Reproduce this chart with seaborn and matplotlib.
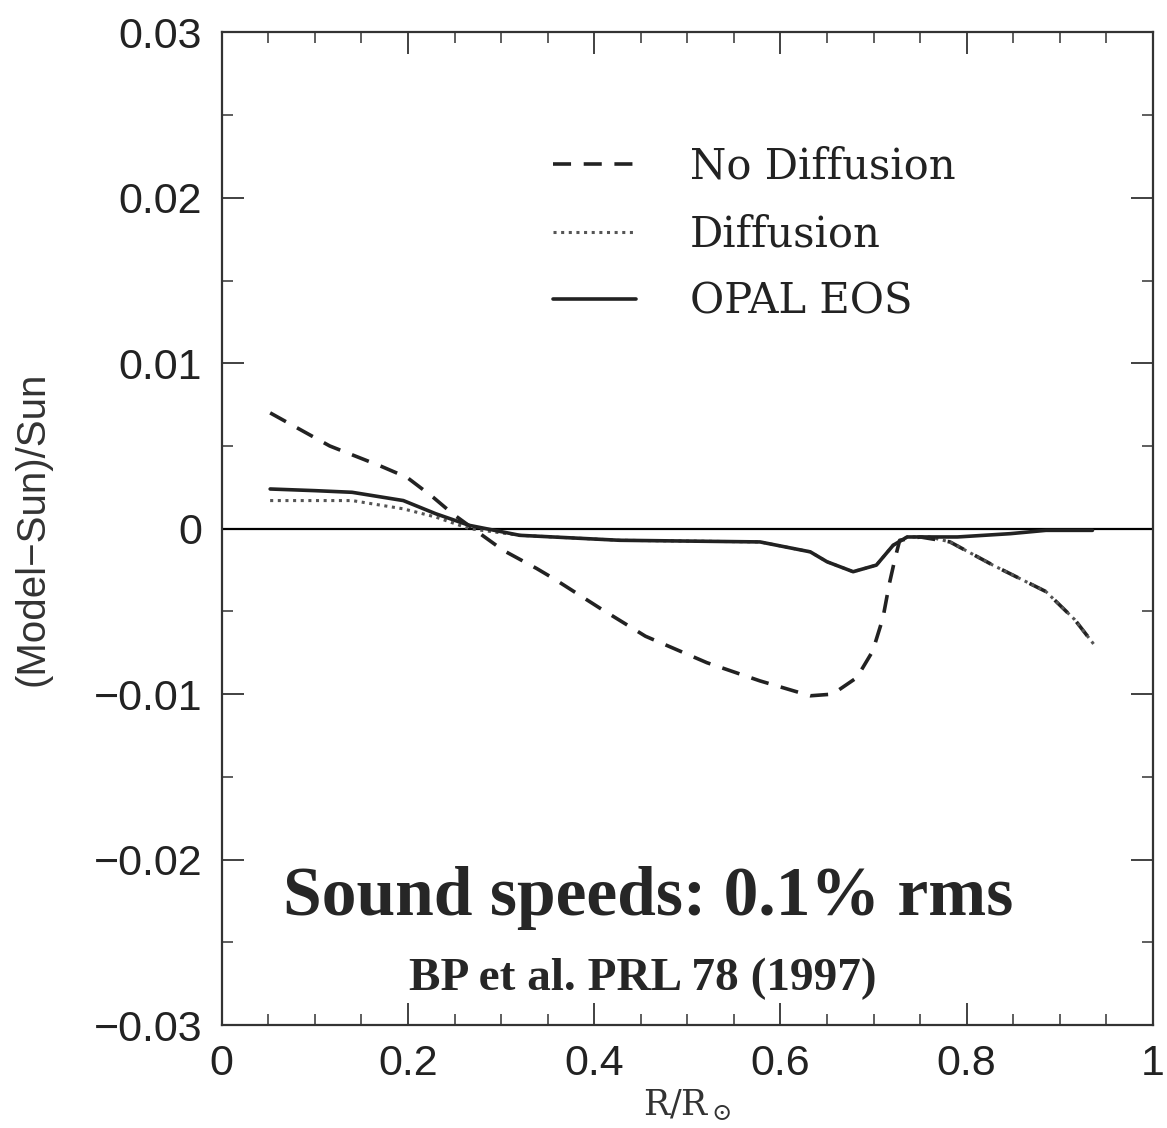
import numpy as np
import pandas as pd
import matplotlib
matplotlib.use('Agg')
import matplotlib.pyplot as plt
from matplotlib.ticker import MultipleLocator
import seaborn as sns

# values (R/Rsun, (Model-Sun)/Sun)
r_nodiff = [0.052, 0.116, 0.170, 0.199, 0.227, 0.248, 0.270, 0.302, 0.338, 0.356, 0.406,
            0.455, 0.521, 0.578, 0.632, 0.656, 0.682, 0.699, 0.710, 0.717, 0.723, 0.728,
            0.750, 0.782, 0.828, 0.885, 0.916, 0.938]
c_nodiff = [0.0070, 0.0050, 0.0038, 0.0031, 0.0019, 0.0009, 0.0000, -0.0013, -0.0024, -0.0030,
            -0.0048, -0.0065, -0.0081, -0.0092, -0.0101, -0.0100, -0.0090, -0.0074, -0.0054,
            -0.0033, -0.0018, -0.0007, -0.0005, -0.0008, -0.0022, -0.0038, -0.0055, -0.0071]

r_diff = [0.052, 0.100, 0.140, 0.195, 0.230, 0.266, 0.320, 0.427, 0.578, 0.632, 0.650, 0.678,
          0.703, 0.721, 0.736, 0.760, 0.782, 0.828, 0.885, 0.916, 0.938]
c_diff = [0.0017, 0.0017, 0.0017, 0.0012, 0.0007, 0.0000, -0.0004, -0.0007, -0.0008, -0.0014,
          -0.0020, -0.0026, -0.0022, -0.0010, -0.0005, -0.0005, -0.0008, -0.0022, -0.0038,
          -0.0055, -0.0071]

r_opal = [0.052, 0.100, 0.140, 0.195, 0.230, 0.266, 0.320, 0.427, 0.578, 0.632, 0.650, 0.678,
          0.703, 0.721, 0.736, 0.790, 0.847, 0.885, 0.935]
c_opal = [0.0024, 0.0023, 0.0022, 0.0017, 0.0009, 0.0002, -0.0004, -0.0007, -0.0008, -0.0014,
          -0.0020, -0.0026, -0.0022, -0.0010, -0.0005, -0.0005, -0.0003, -0.0001, -0.0001]

x_ticks = [0, 0.2, 0.4, 0.6, 0.8, 1]
x_labels = ['0', '0.2', '0.4', '0.6', '0.8', '1']
y_ticks = [-0.03, -0.02, -0.01, 0, 0.01, 0.02, 0.03]
y_labels = ['\u22120.03', '\u22120.02', '\u22120.01', '0', '0.01', '0.02', '0.03']

sns.set_style('ticks')
plt.rcParams['font.family'] = ['Liberation Sans', 'DejaVu Sans']
plt.rcParams['mathtext.fontset'] = 'dejavuserif'

fig = plt.figure(figsize=(11.67, 11.28), dpi=100)
ax = fig.add_axes([0.190, 0.0913, 0.798, 0.880])

ax.axhline(0, color='black', lw=1.6)

df_nd = pd.DataFrame({'r': r_nodiff, 'c': c_nodiff})
df_d = pd.DataFrame({'r': r_diff, 'c': c_diff})
df_o = pd.DataFrame({'r': r_opal, 'c': c_opal})

sns.lineplot(data=df_nd, x='r', y='c', ax=ax, color='#222222', lw=2.6,
             linestyle=(0, (5, 3.5)), label='No Diffusion')
sns.lineplot(data=df_d, x='r', y='c', ax=ax, color='#555555', lw=2.2,
             linestyle=(0, (1, 1.5)), label='Diffusion')
sns.lineplot(data=df_o, x='r', y='c', ax=ax, color='#222222', lw=2.6,
             linestyle='-', label='OPAL EOS')

ax.set_xlim(0, 1)
ax.set_ylim(-0.03, 0.03)
ax.set_xticks(x_ticks, x_labels)
ax.set_yticks(y_ticks, y_labels)
ax.xaxis.set_minor_locator(MultipleLocator(0.05))
ax.yaxis.set_minor_locator(MultipleLocator(0.005))
ax.tick_params(which='both', direction='in', top=True, right=True, color='#333333')
ax.tick_params(which='major', length=16, width=1.3, labelsize=31, pad=14, labelcolor='#222222')
ax.tick_params(which='minor', length=8, width=1.1)
for s in ax.spines.values():
    s.set_linewidth(1.6)
    s.set_color('#333333')

ax.set_xlabel(r'R/R$_\odot$', fontsize=25, color='#333333', labelpad=2,
              family='DejaVu Serif')
ax.set_ylabel('(Model\u2212Sun)/Sun', fontsize=29, color='#333333', labelpad=30)

leg = ax.legend(loc='upper left', bbox_to_anchor=(0.315, 0.924), frameon=False,
                handlelength=2.0, handletextpad=1.3, labelspacing=0.62,
                prop={'family': 'DejaVu Serif', 'size': 30})
for t in leg.get_texts():
    t.set_color('#222222')

ax.text(0.458, -0.0223, 'Sound speeds: 0.1% rms', ha='center', va='center',
        fontsize=50, fontweight='bold', family='Liberation Serif')
ax.text(0.452, -0.0272, 'BP et al. PRL 78 (1997)', ha='center', va='center',
        fontsize=34, fontweight='bold', family='Liberation Serif')

fig.savefig('out.png', dpi=100)
